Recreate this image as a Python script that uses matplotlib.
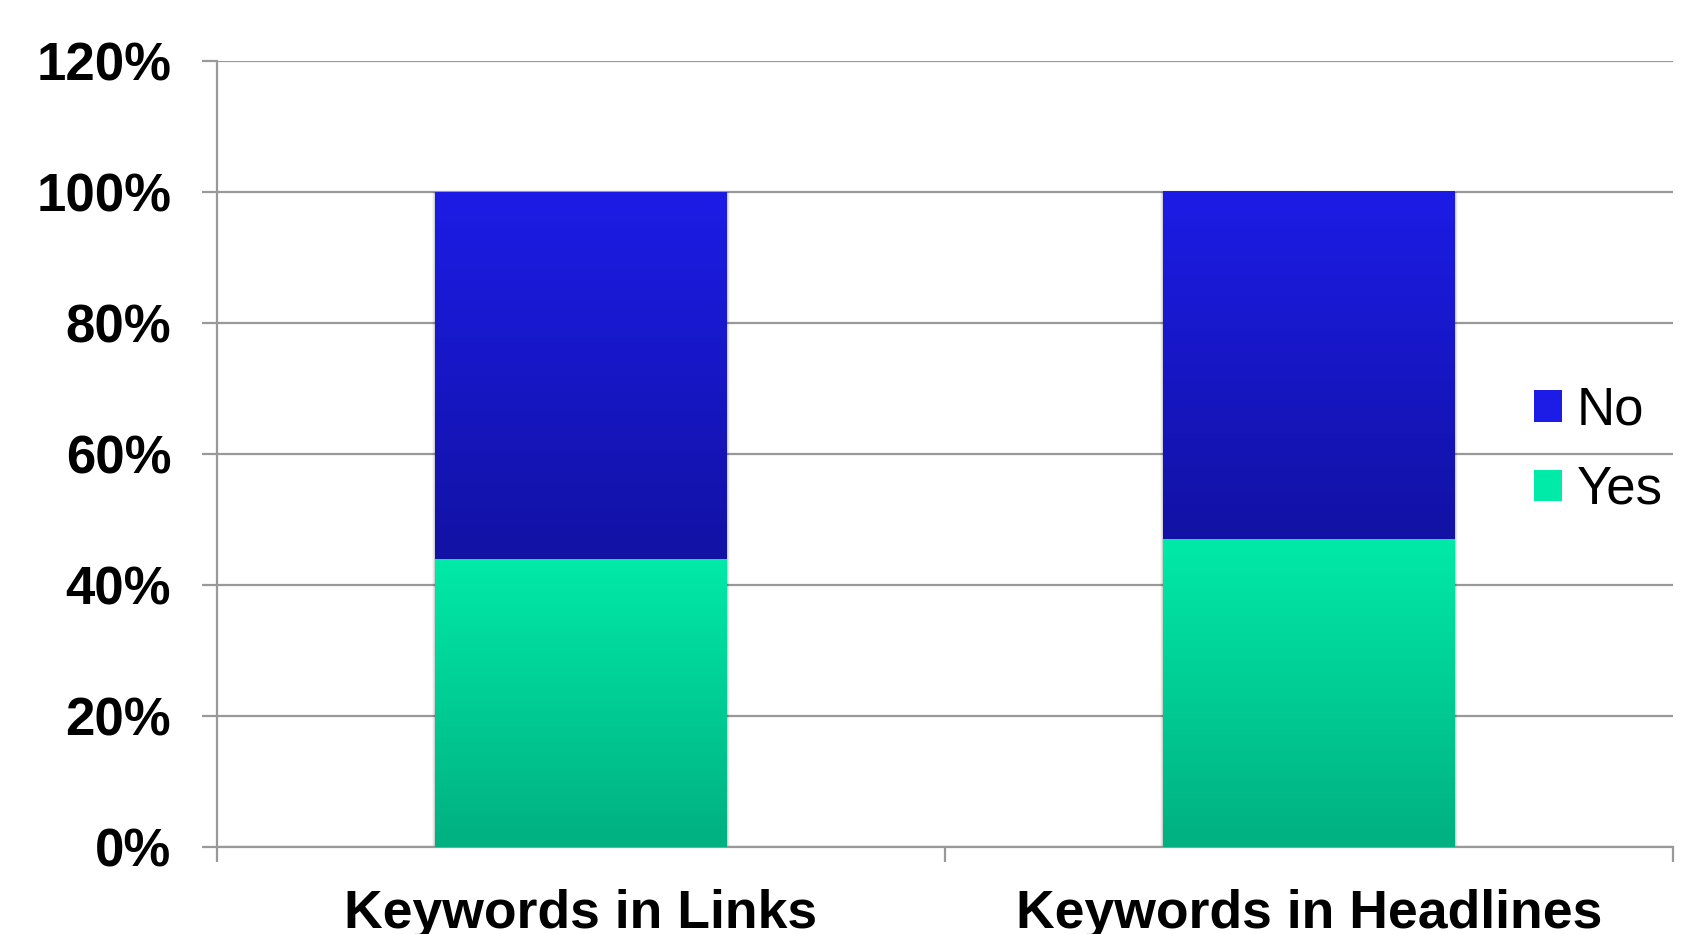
import numpy as np
import matplotlib.pyplot as plt
from matplotlib.colors import LinearSegmentedColormap
from matplotlib.ticker import PercentFormatter

# data (share of pages)
categories = ['Keywords in Links', 'Keywords in Headlines']
yes_vals = [0.44, 0.47]
no_vals = [0.56, 0.53]

# gradient colours (top, bottom)
no_top, no_bot = '#1c1ce6', '#1212a4'
yes_top, yes_bot = '#00eaa8', '#00b080'

plt.rcParams['font.family'] = ['Liberation Sans', 'DejaVu Sans']

fig = plt.figure(figsize=(17.03, 9.34), dpi=100)
ax = fig.add_axes([0.1274, 0.0932, 0.855, 0.8418])

x = np.arange(len(categories))
bars_yes = ax.bar(x, yes_vals, width=0.4, color=yes_top, label='Yes', zorder=3)
bars_no = ax.bar(x, no_vals, width=0.4, bottom=yes_vals, color=no_top, label='No', zorder=3)

# paint vertical gradients over each bar segment
grad = np.linspace(0, 1, 256).reshape(-1, 1)
for bars, top, bot in [(bars_yes, yes_top, yes_bot), (bars_no, no_top, no_bot)]:
    cmap = LinearSegmentedColormap.from_list('g', [bot, top])
    for p in bars:
        x0, y0, w, h = p.get_x(), p.get_y(), p.get_width(), p.get_height()
        ax.imshow(grad, cmap=cmap, aspect='auto', origin='lower',
                  extent=[x0, x0 + w, y0, y0 + h], zorder=4)
        # soft shadow on the sides
        for k, a in enumerate([0.10, 0.06, 0.03]):
            d = 0.0015 * (k + 1)
            ax.add_patch(plt.Rectangle((x0 - d, y0), w + 2 * d, h, color='black',
                                       alpha=a, lw=0, zorder=2.5))

ax.set_xlim(-0.5, 1.5)
ax.set_ylim(0, 1.2)
ax.set_yticks(np.arange(0, 1.21, 0.2))
ax.yaxis.set_major_formatter(PercentFormatter(1.0, decimals=0))
ax.set_xticks(x)
ax.set_xticklabels(categories)
ax.set_xticks([-0.5, 0.5, 1.5], minor=True)

ax.grid(axis='y', color='#999999', lw=1.6, zorder=1)
for s in ['top', 'right']:
    ax.spines[s].set_visible(False)
for s in ['left', 'bottom']:
    ax.spines[s].set_color('#999999')
    ax.spines[s].set_linewidth(1.6)

ax.tick_params(axis='y', length=11, width=1.6, color='#999999', pad=22,
               labelsize=38)
ax.tick_params(axis='x', which='major', length=0, pad=30, labelsize=38.5)
ax.tick_params(axis='x', which='minor', length=11, width=1.6, color='#999999')
for lab in ax.get_xticklabels() + ax.get_yticklabels():
    lab.set_fontweight('bold')

h, l = ax.get_legend_handles_labels()
leg = fig.legend(h[::-1], l[::-1], loc='upper left', bbox_to_anchor=(0.9007, 0.587),
                 frameon=False, fontsize=38, borderpad=0, borderaxespad=0,
                 handlelength=0.53, handleheight=0.53, handletextpad=0.28,
                 labelspacing=0.55)

fig.savefig('out.png', dpi=100)
